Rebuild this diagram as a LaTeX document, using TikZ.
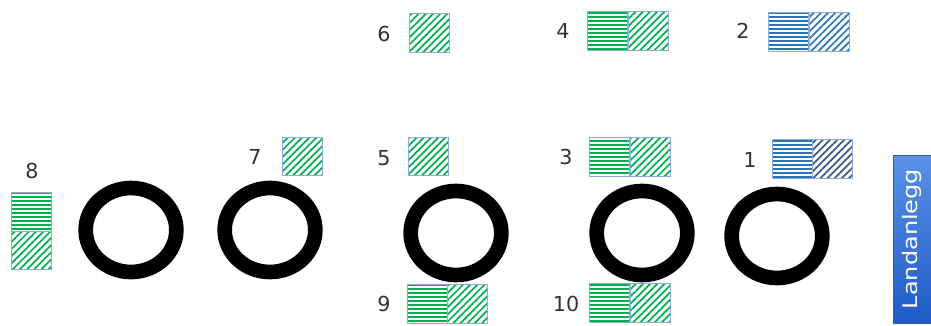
\documentclass[tikz,border=0pt]{standalone}
\usepackage{fontspec}
\setmainfont{DejaVu Sans}
\usepackage{tikz}
\usetikzlibrary{positioning, patterns.meta, shadings}
\definecolor{sgreen}{HTML}{00B050}
\definecolor{sblue}{HTML}{2E75B6}
\definecolor{sslate}{HTML}{3B5A8C}
\definecolor{sedge}{HTML}{8FAADC}
\definecolor{landtop}{HTML}{5A92E6}
\definecolor{landbot}{HTML}{1E5BC8}
\definecolor{landedge}{HTML}{2F5FB0}
\tikzset{
  x=0.75pt, y=-0.75pt,
  hsq/.style={
    draw=sedge, line width=0.6pt, minimum width=30pt, minimum height=29pt,
    inner sep=0pt, pattern={Lines[angle=0,distance=3pt,line width=1.5pt]},
    pattern color=#1
  },
  hsq/.default=sgreen,
  dsq/.style={
    draw=sedge, line width=0.6pt, minimum width=30pt, minimum height=29pt,
    inner sep=0pt, pattern={Lines[angle=45,distance=3.8pt,line width=1.3pt]},
    pattern color=#1
  },
  dsq/.default=sgreen,
  ring/.style={draw=black, line width=11pt, x radius=34pt, y radius=31.5pt},
  num/.style={font=\fontsize{15.5}{18}\selectfont, text=black!80},
  landbox/.style={
    rotate=90, draw=landedge, line width=0.6pt, top color=landtop, bottom color=landbot,
    minimum width=126pt, minimum height=28.5pt, inner sep=0pt,
    text=white, font=\fontsize{15}{17}\selectfont
  }
}
\begin{document}
\begin{tikzpicture}
  \useasboundingbox (0,0) rectangle (931,325);
  % rings
  \draw[ring] (131,230) ellipse [];
  \draw[ring] (270,230) ellipse [];
  \draw[ring] (456,233) ellipse [];
  \draw[ring] (642,233) ellipse [];
  \draw[ring] (777,236) ellipse [];
  % top row
  \node[dsq] (s6) at (429.5,33) {};
  \node[num] (n6) at (384,34) {6};
  \node[hsq] (s4h) at (607.5,31) {};
  \node[dsq] (s4d) at (648.5,31) {};
  \node[num] (n4) at (563,31) {4};
  \node[hsq=sblue] (s2h) at (788,32) {};
  \node[dsq=sblue] (s2d) at (829,32) {};
  \node[num] (n2) at (743,31) {2};
  % middle row
  \node[dsq] (s7) at (302,156.5) {};
  \node[num] (n7) at (255,157) {7};
  \node[dsq] (s5) at (428.5,156.5) {};
  \node[num] (n5) at (384,158) {5};
  \node[hsq] (s3h) at (609,157) {};
  \node[dsq] (s3d) at (650,157) {};
  \node[num] (n3) at (566,157) {3};
  \node[hsq=sblue] (s1h) at (792.5,159) {};
  \node[dsq=sslate] (s1d) at (832.5,159) {};
  \node[num] (n1) at (750,160) {1};
  % left stack
  \node[hsq] (s8h) at (31.5,212) {};
  \node[dsq] (s8d) at (31.5,250.5) {};
  \node[num] (n8) at (32,171) {8};
  % bottom row
  \node[hsq] (s9h) at (427.5,304) {};
  \node[dsq] (s9d) at (467.5,304) {};
  \node[num] (n9) at (384,304) {9};
  \node[hsq] (s10h) at (609,303) {};
  \node[dsq] (s10d) at (650,303) {};
  \node[num] (n10) at (566,304) {10};
  % shore unit
  \node[landbox] (land) at (912,239) {\scalebox{1.2}[1]{Landanlegg}};
\end{tikzpicture}
\end{document}
